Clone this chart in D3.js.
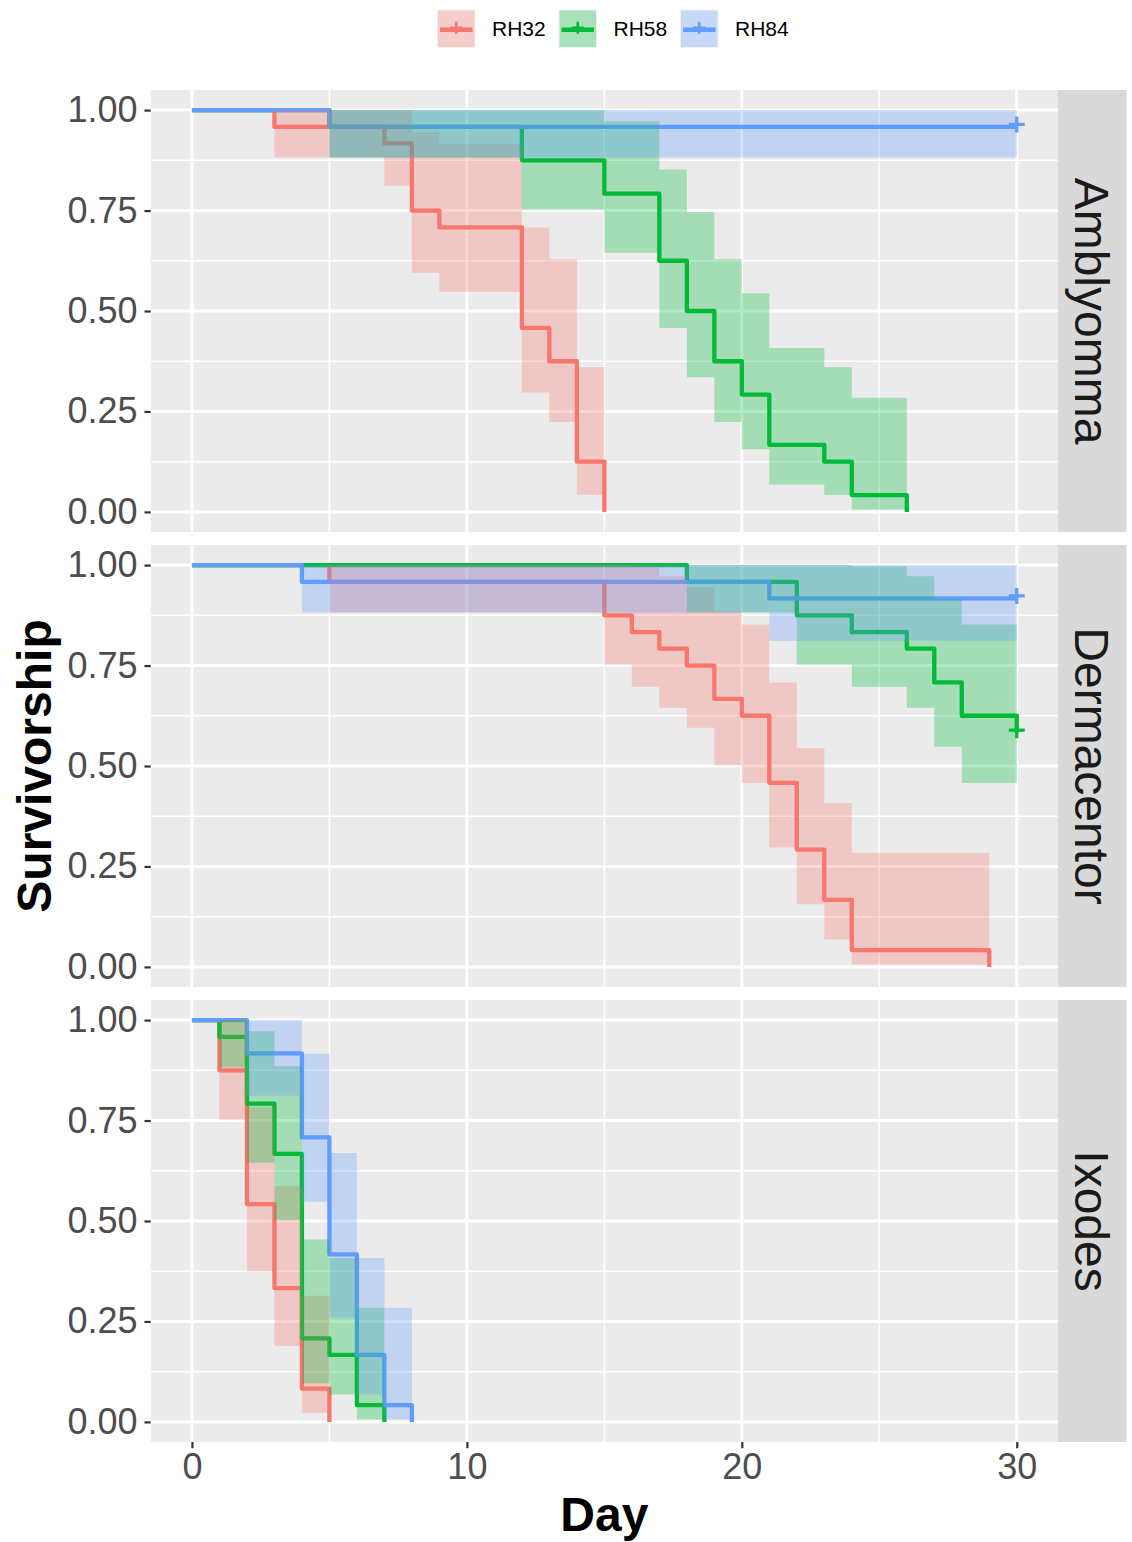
<!DOCTYPE html>
<html><head><meta charset="utf-8">
<script src="https://cdn.jsdelivr.net/npm/d3@7"></script>
<style>body{margin:0;background:#fff}svg{display:block}</style>
</head><body>
<svg id="chart" width="1132" height="1542"></svg>
<script>
// ---------- data ----------
const species = ["Amblyomma", "Dermacentor", "Ixodes"];
const groups = ["RH32", "RH58", "RH84"];
const xTicks = [0, 10, 20, 30];
const xMinorTicks = [5, 15, 25];
const yTicks = [0, 0.25, 0.5, 0.75, 1];
const yMinorTicks = [0.125, 0.375, 0.625, 0.875];

// Amblyomma
const amb32Day  = [0, 3, 7, 8, 9, 12, 13, 14, 15];
const amb32Surv = [1, 0.958, 0.917, 0.750, 0.708, 0.458, 0.375, 0.125, 0];
const amb32Low  = [1, 0.882, 0.812, 0.595, 0.548, 0.297, 0.224, 0.043, null];
const amb32Up   = [1, 1, 1, 0.945, 0.916, 0.708, 0.629, 0.360, null];

const amb58Day  = [0, 5, 12, 15, 17, 18, 19, 20, 21, 23, 24, 26];
const amb58Surv = [1, 0.958, 0.875, 0.792, 0.625, 0.500, 0.375, 0.292, 0.167, 0.125, 0.042, 0];
const amb58Low  = [1, 0.882, 0.752, 0.645, 0.458, 0.335, 0.224, 0.156, 0.068, 0.043, 0.006, null];
const amb58Up   = [1, 1, 1, 0.972, 0.852, 0.746, 0.629, 0.544, 0.408, 0.360, 0.284, null];

const amb84Day  = [0, 5, 30];
const amb84Surv = [1, 0.958, 0.958];
const amb84Low  = [1, 0.882, 0.882];
const amb84Up   = [1, 1, 1];

// Dermacentor
const der32Day  = [0, 5, 15, 16, 17, 18, 19, 20, 21, 22, 23, 24, 29];
const der32Surv = [1, 0.958, 0.875, 0.833, 0.792, 0.750, 0.667, 0.625, 0.458, 0.292, 0.167, 0.042, 0];
const der32Low  = [1, 0.882, 0.752, 0.697, 0.645, 0.595, 0.502, 0.458, 0.297, 0.156, 0.068, 0.006, null];
const der32Up   = [1, 1, 1, 0.997, 0.972, 0.945, 0.885, 0.852, 0.708, 0.544, 0.408, 0.284, null];

const der58Day  = [0, 18, 22, 24, 26, 27, 28, 30];
const der58Surv = [1, 0.958, 0.875, 0.833, 0.792, 0.708, 0.625, 0.583];
const der58Low  = [1, 0.882, 0.752, 0.697, 0.645, 0.548, 0.458, 0.416];
const der58Up   = [1, 1, 1, 0.997, 0.972, 0.916, 0.852, 0.818];

const der84Day  = [0, 4, 21, 30];
const der84Surv = [1, 0.958, 0.917, 0.917];
const der84Low  = [1, 0.882, 0.812, 0.812];
const der84Up   = [1, 1, 1, 1];

// Ixodes
const ixo32Day  = [0, 1, 2, 3, 4, 5];
const ixo32Surv = [1, 0.875, 0.542, 0.333, 0.083, 0];
const ixo32Low  = [1, 0.752, 0.375, 0.189, 0.022, null];
const ixo32Up   = [1, 1, 0.783, 0.587, 0.314, null];

const ixo58Day  = [0, 1, 2, 3, 4, 5, 6, 7];
const ixo58Surv = [1, 0.958, 0.792, 0.667, 0.208, 0.167, 0.042, 0];
const ixo58Low  = [1, 0.882, 0.645, 0.502, 0.096, 0.068, 0.006, null];
const ixo58Up   = [1, 1, 0.972, 0.885, 0.454, 0.408, 0.284, null];

const ixo84Day  = [0, 2, 4, 5, 6, 7, 8];
const ixo84Surv = [1, 0.917, 0.708, 0.417, 0.167, 0.042, 0];
const ixo84Low  = [1, 0.812, 0.548, 0.260, 0.068, 0.006, null];
const ixo84Up   = [1, 1, 0.916, 0.669, 0.408, 0.284, null];

// censored observations (species, group, day)
const censorSpecies = ["Amblyomma", "Dermacentor", "Dermacentor"];
const censorGroups  = ["RH84", "RH58", "RH84"];
const censorDays    = [30, 30, 30];

// ---------- build table ----------
const seriesTable = [
  {sp: "Amblyomma", g: "RH32", day: amb32Day, surv: amb32Surv, low: amb32Low, up: amb32Up},
  {sp: "Amblyomma", g: "RH58", day: amb58Day, surv: amb58Surv, low: amb58Low, up: amb58Up},
  {sp: "Amblyomma", g: "RH84", day: amb84Day, surv: amb84Surv, low: amb84Low, up: amb84Up},
  {sp: "Dermacentor", g: "RH32", day: der32Day, surv: der32Surv, low: der32Low, up: der32Up},
  {sp: "Dermacentor", g: "RH58", day: der58Day, surv: der58Surv, low: der58Low, up: der58Up},
  {sp: "Dermacentor", g: "RH84", day: der84Day, surv: der84Surv, low: der84Low, up: der84Up},
  {sp: "Ixodes", g: "RH32", day: ixo32Day, surv: ixo32Surv, low: ixo32Low, up: ixo32Up},
  {sp: "Ixodes", g: "RH58", day: ixo58Day, surv: ixo58Surv, low: ixo58Low, up: ixo58Up},
  {sp: "Ixodes", g: "RH84", day: ixo84Day, surv: ixo84Surv, low: ixo84Low, up: ixo84Up}
];

// ---------- layout & style ----------
const colors = d3.scaleOrdinal(groups, ["#F8766D", "#00BA38", "#619CFF"]);
const FONT = "'Liberation Sans', Arial, Helvetica, sans-serif";
const panelLeft = 150.7, panelRight = 1058, stripRight = 1126.5;
const panelTops = [90, 545, 1000], panelH = 442;

const svg = d3.select("#chart");
svg.append("rect").attr("width", 1132).attr("height", 1542).attr("fill", "#fff");

const x = d3.scaleLinear().domain([-1.5, 31.5]).range([panelLeft, panelRight]);

const lineGen = (ys) => d3.line().curve(d3.curveStepAfter).x(d => x(d.d)).y(d => ys(d.s));
const areaGen = (ys) => d3.area().curve(d3.curveStepAfter).x(d => x(d.d)).y0(d => ys(d.lo)).y1(d => ys(d.up));

species.forEach((sp, pi) => {
  const top = panelTops[pi];
  const y = d3.scaleLinear().domain([-0.05, 1.05]).range([top + panelH, top]);
  const g = svg.append("g");

  g.append("rect").attr("x", panelLeft).attr("y", top).attr("width", panelRight - panelLeft)
    .attr("height", panelH).attr("fill", "#EBEBEB");

  // grid
  const grid = g.append("g");
  yMinorTicks.forEach(v => grid.append("line").attr("x1", panelLeft).attr("x2", panelRight)
    .attr("y1", y(v)).attr("y2", y(v)).attr("stroke", "#fff").attr("stroke-width", 1.6));
  xMinorTicks.forEach(v => grid.append("line").attr("y1", top).attr("y2", top + panelH)
    .attr("x1", x(v)).attr("x2", x(v)).attr("stroke", "#fff").attr("stroke-width", 1.6));
  yTicks.forEach(v => grid.append("line").attr("x1", panelLeft).attr("x2", panelRight)
    .attr("y1", y(v)).attr("y2", y(v)).attr("stroke", "#fff").attr("stroke-width", 3));
  xTicks.forEach(v => grid.append("line").attr("y1", top).attr("y2", top + panelH)
    .attr("x1", x(v)).attr("x2", x(v)).attr("stroke", "#fff").attr("stroke-width", 3));

  const rows = seriesTable.filter(s => s.sp === sp);
  const clip = "clip" + pi;
  svg.append("clipPath").attr("id", clip).append("rect")
    .attr("x", panelLeft).attr("y", top).attr("width", panelRight - panelLeft).attr("height", panelH);
  const plot = g.append("g").attr("clip-path", `url(#${clip})`);

  // step lines
  rows.forEach(s => {
    const pts = s.day.map((d, i) => ({d: d, s: s.surv[i]}));
    plot.append("path").datum(pts).attr("d", lineGen(y))
      .attr("fill", "none").attr("stroke", colors(s.g)).attr("stroke-width", 4.3)
      .attr("stroke-linejoin", "round").attr("stroke-linecap", "butt");
  });
  // confidence ribbons (drawn over lines)
  rows.forEach(s => {
    const pts = [];
    for (let i = 0; i < s.day.length; i++) {
      if (s.low[i] !== null) pts.push({d: s.day[i], lo: s.low[i], up: s.up[i]});
      else { pts.push({d: s.day[i], lo: s.low[i - 1], up: s.up[i - 1]}); break; }
    }
    plot.append("path").datum(pts).attr("d", areaGen(y))
      .attr("fill", colors(s.g)).attr("fill-opacity", 0.3).attr("stroke", "none");
  });
  // censor marks
  censorSpecies.forEach((cs, ci) => {
    if (cs !== sp) return;
    const s = rows.find(r => r.g === censorGroups[ci]);
    const idx = s.day.indexOf(censorDays[ci]);
    const cx = x(censorDays[ci]), cy = y(s.surv[idx]) - 2.5;
    g.append("path").attr("d", `M${cx - 8},${cy}H${cx + 8}M${cx},${cy - 8}V${cy + 8}`)
      .attr("stroke", colors(s.g)).attr("stroke-width", 3.3).attr("fill", "none");
  });

  // y axis
  const ya = g.append("g").attr("transform", `translate(${panelLeft},0)`)
    .call(d3.axisLeft(y).tickValues(yTicks).tickFormat(d3.format(".2f")).tickSize(6.2).tickPadding(7));
  ya.select(".domain").remove();
  ya.selectAll(".tick line").attr("stroke", "#333333").attr("stroke-width", 2.2);
  ya.selectAll(".tick text").attr("fill", "#4D4D4D").style("font-family", FONT).style("font-size", "36px");

  // strip
  g.append("rect").attr("x", panelRight).attr("y", top).attr("width", stripRight - panelRight)
    .attr("height", panelH).attr("fill", "#D9D9D9");
  g.append("text").attr("transform", `translate(${(panelRight + stripRight) / 2},${top + panelH / 2}) rotate(90)`)
    .attr("text-anchor", "middle").attr("dy", "0.36em").attr("fill", "#1A1A1A")
    .style("font-family", FONT).style("font-size", "48px").text(sp);

  if (pi === species.length - 1) {
    const xa = g.append("g").attr("transform", `translate(0,${top + panelH})`)
      .call(d3.axisBottom(x).tickValues(xTicks).tickFormat(d3.format("d")).tickSize(6.2).tickPadding(5));
    xa.select(".domain").remove();
    xa.selectAll(".tick line").attr("stroke", "#333333").attr("stroke-width", 2.2);
    xa.selectAll(".tick text").attr("fill", "#4D4D4D").style("font-family", FONT).style("font-size", "36px");
  }
});

// axis titles
svg.append("text").attr("x", (panelLeft + panelRight) / 2).attr("y", 1531)
  .attr("text-anchor", "middle").attr("fill", "#000").style("font-family", FONT)
  .style("font-size", "48px").style("font-weight", "bold").text("Day");
svg.append("text").attr("transform", `translate(51,${(panelTops[0] + panelTops[2] + panelH) / 2}) rotate(-90)`)
  .attr("text-anchor", "middle").attr("fill", "#000").style("font-family", FONT)
  .style("font-size", "48px").style("font-weight", "bold").text("Survivorship");

// legend
const legendX = [437, 558.5, 680];
const leg = svg.append("g");
groups.forEach((gname, i) => {
  const lx = legendX[i], ly = 9.5, sz = 38.5;
  leg.append("rect").attr("x", lx).attr("y", ly).attr("width", sz).attr("height", sz).attr("fill", "#F2F2F2");
  leg.append("rect").attr("x", lx + 1).attr("y", ly + 1).attr("width", sz - 2).attr("height", sz - 2)
    .attr("fill", colors(gname)).attr("fill-opacity", 0.3);
  const cy = ly + sz / 2 + 1;
  leg.append("line").attr("x1", lx + 3).attr("x2", lx + sz - 3).attr("y1", cy).attr("y2", cy)
    .attr("stroke", colors(gname)).attr("stroke-width", 4.3);
  leg.append("path").attr("d", `M${lx + sz / 2 - 6},${cy - 2}H${lx + sz / 2 + 6}M${lx + sz / 2},${cy - 8}V${cy + 4}`)
    .attr("stroke", colors(gname)).attr("stroke-width", 2.5);
  leg.append("text").attr("x", lx + 55).attr("y", ly + sz / 2).attr("dy", "0.36em")
    .attr("fill", "#000").style("font-family", FONT).style("font-size", "21px").text(gname);
});
</script>
</body></html>
